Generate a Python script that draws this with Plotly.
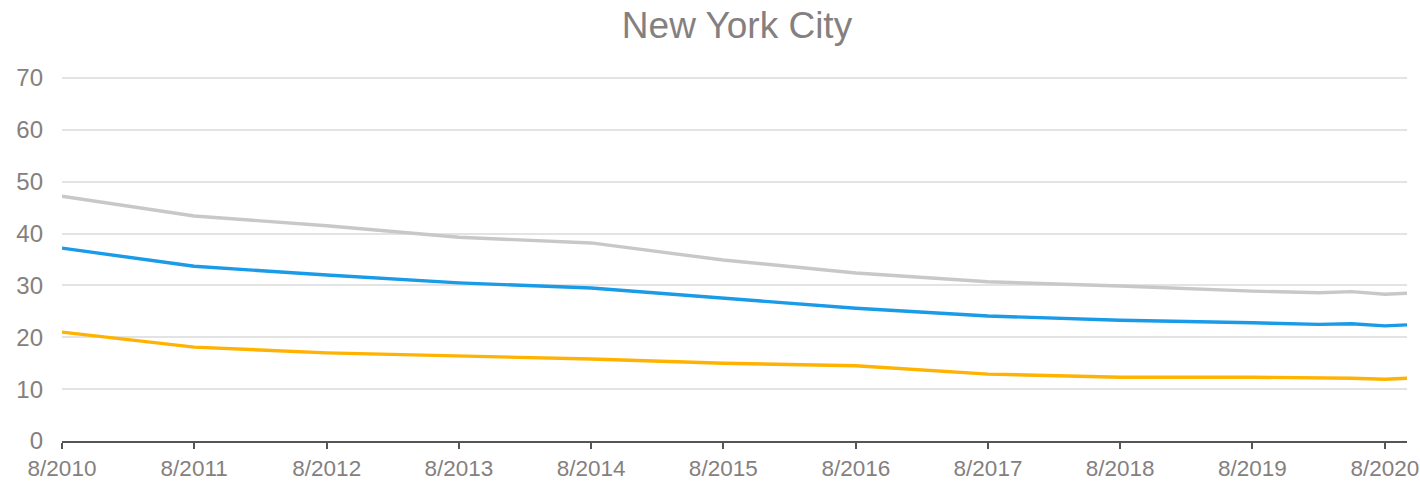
import plotly.graph_objects as go

dates = ["2010-08-01", "2011-08-01", "2012-08-01", "2013-08-01", "2014-08-01",
         "2015-08-01", "2016-08-01", "2017-08-01", "2018-08-01", "2019-08-01",
         "2020-02-01", "2020-05-01", "2020-08-01", "2020-10-01"]
gray_vals = [47.2, 43.4, 41.5, 39.3, 38.2, 34.9, 32.4, 30.7, 29.9, 28.9, 28.6, 28.8, 28.3, 28.5]
blue_vals = [37.2, 33.7, 32.0, 30.5, 29.5, 27.6, 25.6, 24.1, 23.3, 22.8, 22.5, 22.6, 22.2, 22.4]
yellow_vals = [21.0, 18.1, 17.0, 16.4, 15.8, 15.0, 14.5, 12.9, 12.3, 12.3, 12.2, 12.1, 11.9, 12.1]

tick_dates = ["2010-08-01", "2011-08-01", "2012-08-01", "2013-08-01", "2014-08-01",
              "2015-08-01", "2016-08-01", "2017-08-01", "2018-08-01", "2019-08-01",
              "2020-08-01"]
tick_labels = ["8/2010", "8/2011", "8/2012", "8/2013", "8/2014", "8/2015",
               "8/2016", "8/2017", "8/2018", "8/2019", "8/2020"]
y_ticks = [0, 10, 20, 30, 40, 50, 60, 70]

fig = go.Figure()
for vals, color, name in [(gray_vals, "#c8c8c8", "Gray"),
                          (blue_vals, "#1a9be8", "Blue"),
                          (yellow_vals, "#ffb300", "Yellow")]:
    fig.add_trace(go.Scatter(x=dates, y=vals, mode="lines", name=name,
                             line=dict(color=color, width=3.4)))

font_family = "Liberation Sans, Arial, sans-serif"
fig.update_layout(
    width=1420, height=481,
    paper_bgcolor="white", plot_bgcolor="white",
    margin=dict(l=62, r=13, t=77, b=40, autoexpand=False),
    showlegend=False,
    title=dict(text="New York City", x=737 / 1420, xanchor="center",
               y=1 - 25 / 481, yanchor="middle", xref="container", yref="container",
               font=dict(family=font_family, size=37, color="#858080")),
    font=dict(family=font_family, color="#858080"),
)
fig.update_xaxes(
    type="date", range=["2010-08-01", "2020-10-01"], automargin=False,
    tickvals=tick_dates, ticktext=tick_labels, ticklabeloverflow="allow",
    showgrid=False, showline=True, linecolor="#555555", linewidth=2,
    ticks="outside", ticklen=6, tickwidth=2, tickcolor="#555555",
    tickfont=dict(size=22.5, color="#858080"), zeroline=False,
)
fig.update_yaxes(
    range=[0, 70.2], tickvals=y_ticks, automargin=False,
    showgrid=True, gridcolor="#e3e3e3", gridwidth=2,
    zeroline=False, showline=False, ticks="",
    tickfont=dict(size=24, color="#858080"), ticklabelstandoff=18,
)
fig.write_html("out.html", config={"displayModeBar": False},
               post_script="document.body.style.margin='0';document.body.style.overflow='hidden';")
